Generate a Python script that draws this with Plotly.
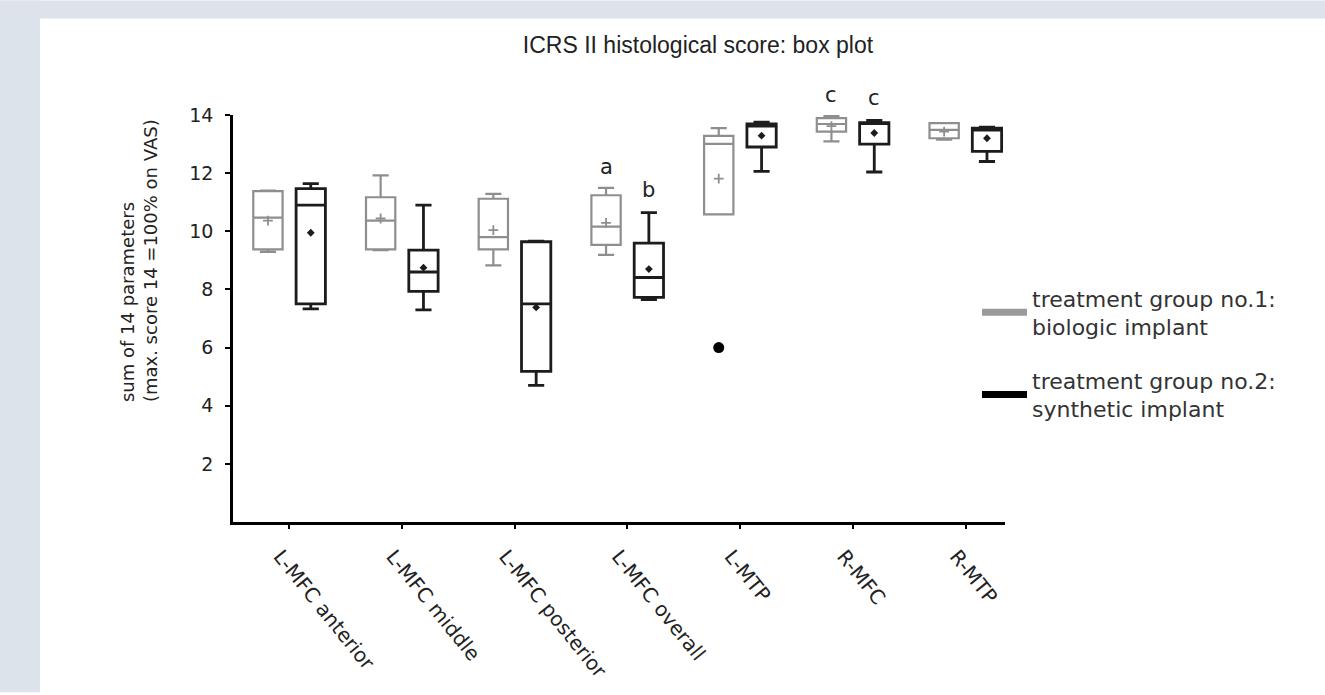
import plotly.graph_objects as go

# ---------------- data ----------------
categories = ["L-MFC anterior", "L-MFC middle", "L-MFC posterior", "L-MFC overall",
              "L-MTP", "R-MFC", "R-MTP"]

# treatment group no.1: biologic implant (grey)
bio_lower  = [9.29, 9.35, 8.83, 9.19, 10.58, 13.09, 13.15]
bio_q1     = [9.38, 9.38, 9.38, 9.53, 10.58, 13.43, 13.20]
bio_median = [10.47, 10.37, 9.80, 10.16, 13.01, 13.69, 13.49]
bio_q3     = [11.38, 11.17, 11.12, 11.24, 13.28, 13.89, 13.72]
bio_upper  = [11.40, 11.92, 11.29, 11.49, 13.55, 13.97, 13.72]
bio_mean   = [10.37, 10.44, 10.04, 10.29, 11.81, 13.62, 13.43]

# treatment group no.2: synthetic implant (black)
syn_lower  = [7.33, 7.30, 4.70, 7.65, 12.06, 12.04, 12.40]
syn_q1     = [7.50, 7.93, 5.18, 7.73, 12.90, 13.00, 12.75]
syn_median = [10.90, 8.60, 7.50, 8.41, 13.62, 13.70, 13.48]
syn_q3     = [11.47, 9.35, 9.64, 9.59, 13.69, 13.74, 13.55]
syn_upper  = [11.64, 10.90, 9.66, 10.64, 13.75, 13.81, 13.58]
syn_mean   = [9.95, 8.75, 7.38, 8.70, 13.29, 13.38, 13.20]

# outlier (biologic group, L-MTP)
outlier_category = "L-MTP"
outlier_value = 6.0

# significance letters: (category, group, y, text)
letter_cats   = ["L-MFC overall", "L-MFC overall", "R-MFC", "R-MFC"]
letter_groups = ["bio", "syn", "bio", "syn"]
letter_y      = [12.22, 11.43, 14.69, 14.58]
letter_text   = ["a", "b", "c", "c"]

y_ticks = [2, 4, 6, 8, 10, 12, 14]
y_max = 14

title_text = "ICRS II histological score: box plot"
y_title = "sum of 14 parameters<br>(max. score 14 =100% on VAS)"
name_bio = "treatment group no.1:<br>biologic implant"
name_syn = "treatment group no.2:<br>synthetic implant"

# ---------------- style ----------------
GRAY = "#8e8e8e"
BLACK = "#1c1c1c"
BG = "#dde3ea"
OFF = 0.19
BOXW = 0.26
FONT = "DejaVu Sans"

idx = list(range(len(categories)))
x_bio = [i - OFF for i in idx]
x_syn = [i + OFF for i in idx]
grp_off = {"bio": -OFF, "syn": OFF}

fig = go.Figure()

fig.add_trace(go.Box(
    x=x_bio, q1=bio_q1, median=bio_median, q3=bio_q3,
    lowerfence=bio_lower, upperfence=bio_upper,
    width=BOXW, whiskerwidth=0.55, fillcolor="white",
    line=dict(color=GRAY, width=2.2), showlegend=False, hoverinfo="skip"))
fig.add_trace(go.Box(
    x=x_syn, q1=syn_q1, median=syn_median, q3=syn_q3,
    lowerfence=syn_lower, upperfence=syn_upper,
    width=BOXW, whiskerwidth=0.55, fillcolor="white",
    line=dict(color=BLACK, width=2.8), showlegend=False, hoverinfo="skip"))

fig.add_trace(go.Scatter(
    x=x_bio, y=bio_mean, mode="markers", showlegend=False, hoverinfo="skip",
    marker=dict(symbol="cross-thin", size=7, line=dict(color=GRAY, width=1.8))))
fig.add_trace(go.Scatter(
    x=x_syn, y=syn_mean, mode="markers", showlegend=False, hoverinfo="skip",
    marker=dict(symbol="diamond", size=6, color=BLACK)))

fig.add_trace(go.Scatter(
    x=[categories.index(outlier_category) - OFF], y=[outlier_value],
    mode="markers", showlegend=False, hoverinfo="skip",
    marker=dict(symbol="circle", size=11, color="black")))

# legend entries
fig.add_trace(go.Scatter(x=[None], y=[None], mode="lines", name=name_bio,
                         legendgroup="g1", line=dict(color="#9a9a9a", width=7)))
fig.add_trace(go.Scatter(x=[None], y=[None], mode="lines", name=name_syn,
                         legendgroup="g2", line=dict(color="black", width=7)))

for c, g, yv, t in zip(letter_cats, letter_groups, letter_y, letter_text):
    fig.add_annotation(x=categories.index(c) + grp_off[g], xref="x",
                       y=yv / y_max, yref="y domain", yanchor="middle",
                       xanchor="center", text=t, showarrow=False,
                       font=dict(family=FONT, size=21, color="#222"))

# page geometry
L, R, T, B = 233, 320, 115, 171
W, H = 1325, 695
pw, ph = W - L - R, H - T - B
def px(v):
    return (v - L) / pw
def py(v):
    return (H - B - v) / ph

# page background strips (top and left)
fig.add_shape(type="rect", xref="paper", yref="paper", layer="below",
              x0=px(0), x1=px(W), y0=py(18), y1=py(0), fillcolor=BG, line_width=0)
fig.add_shape(type="rect", xref="paper", yref="paper", layer="below",
              x0=px(0), x1=px(40), y0=py(H), y1=py(0), fillcolor=BG, line_width=0)

# y-axis title (two lines, rotated, lines aligned at their start)
fig.add_annotation(text=y_title, xref="paper", yref="paper", x=px(139), y=py(406),
                   xanchor="center", yanchor="bottom", textangle=-90, align="left",
                   showarrow=False,
                   font=dict(family=FONT, size=18, color="#222"))

fig.update_layout(
    width=W, height=H,
    margin=dict(l=L, r=R, t=T, b=B, pad=0),
    paper_bgcolor="white", plot_bgcolor="rgba(0,0,0,0)",
    title=dict(text=title_text, x=698 / W, xref="container", xanchor="center",
               y=1 - 45 / H, yref="container", yanchor="middle",
               font=dict(family="Liberation Sans", size=23, color="#222")),
    showlegend=True,
    legend=dict(x=px(977), y=py(278), xanchor="left", yanchor="top",
                font=dict(family=FONT, size=22, color="#333"),
                itemwidth=45, tracegroupgap=22, traceorder="grouped",
                bgcolor="rgba(0,0,0,0)"),
    xaxis=dict(range=[-0.5, 6.35], tickmode="array", tickvals=idx, ticktext=categories,
               tickangle=51, showline=True, linecolor="black", linewidth=2.5,
               ticks="outside", ticklen=4, tickwidth=2, tickcolor="black",
               ticklabelshift=-9, ticklabelstandoff=8,
               showgrid=False, zeroline=False,
               tickfont=dict(family=FONT, size=20, color="#222")),
    yaxis=dict(range=[0, y_max], tickmode="array", tickvals=y_ticks,
               showline=True, linecolor="black", linewidth=2.5,
               ticks="outside", ticklen=5, tickwidth=2, tickcolor="black",
               ticklabelstandoff=8,
               showgrid=False, zeroline=False,
               tickfont=dict(family=FONT, size=19, color="#222")),
)

fig.write_html("out.html", config={"displayModeBar": False},
               post_script="document.body.style.margin='0px';")
